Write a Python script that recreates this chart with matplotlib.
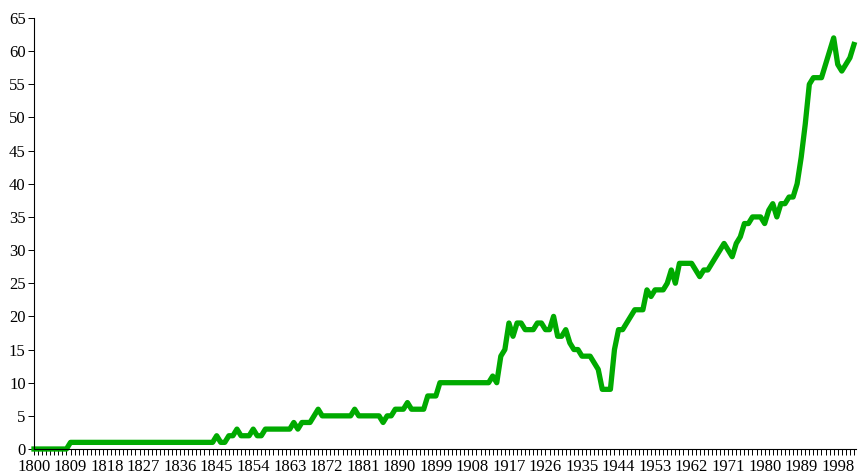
import numpy as np
import matplotlib
matplotlib.use('Agg')
import matplotlib.pyplot as plt
from matplotlib.ticker import MultipleLocator

# yearly values 1800-2002
years = list(range(1800, 2003))
values = (
    [0] * 9 +                      # 1800-1808
    [1] * 36 +                     # 1809-1844
    [2, 1, 1, 2, 2, 3, 2, 2, 2, 3,  # 1845-1854
     2, 2, 3, 3, 3, 3, 3, 3, 3, 4,  # 1855-1864
     3, 4, 4, 4, 5, 6, 5, 5, 5, 5,  # 1865-1874
     5, 5, 5, 5, 6, 5, 5, 5, 5, 5,  # 1875-1884
     5, 4, 5, 5, 6, 6, 6, 7, 6, 6,  # 1885-1894
     6, 6, 8, 8, 8, 10, 10, 10, 10, 10,  # 1895-1904
     10, 10, 10, 10, 10, 10, 10, 10, 11, 10,  # 1905-1914
     14, 15, 19, 17, 19, 19, 18, 18, 18, 19,  # 1915-1924
     19, 18, 18, 20, 17, 17, 18, 16, 15, 15,  # 1925-1934
     14, 14, 14, 13, 12, 9, 9, 9, 15, 18,  # 1935-1944
     18, 19, 20, 21, 21, 21, 24, 23, 24, 24,  # 1945-1954
     24, 25, 27, 25, 28, 28, 28, 28, 27, 26,  # 1955-1964
     27, 27, 28, 29, 30, 31, 30, 29, 31, 32,  # 1965-1974
     34, 34, 35, 35, 35, 34, 36, 37, 35, 37,  # 1975-1984
     37, 38, 38, 40, 44, 49, 55, 56, 56, 56,  # 1985-1994
     58, 60, 62, 58, 57, 58, 59, 61]        # 1995-2002
)
years = years[:len(values)]
tick_years = list(range(1800, 2000, 9))

plt.rcParams['font.family'] = ['Liberation Serif', 'DejaVu Serif']

fig = plt.figure(figsize=(8.58, 4.74), dpi=100)
ax = fig.add_axes([34 / 858, 25 / 474, 822 / 858, 431 / 474])

ax.plot(years, values, color='#00aa00', linewidth=3.8, clip_on=False,
        solid_joinstyle='round')

ax.set_xlim(1800, 2002.5)
ax.set_ylim(0, 65)
ax.set_xticks(tick_years)
ax.xaxis.set_minor_locator(MultipleLocator(1))
ax.yaxis.set_major_locator(MultipleLocator(5))

for s in ['top', 'right']:
    ax.spines[s].set_visible(False)
for s in ['left', 'bottom']:
    ax.spines[s].set_linewidth(0.8)

ax.tick_params(axis='x', which='both', length=4, width=0.7, labelsize=12, pad=3)
ax.tick_params(axis='y', length=4, width=0.7, labelsize=12, pad=2)

fig.savefig('out.png', dpi=100)
plt.close()
